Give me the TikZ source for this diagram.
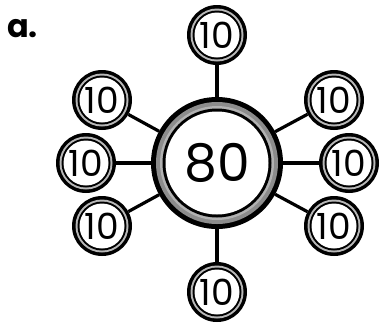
\documentclass[tikz,border=0pt]{standalone}
\usepackage{fontspec}
\setmainfont{Poppins}
\begin{document}
\begin{tikzpicture}[x=1pt,y=-1pt,
  sat/.style={circle, inner sep=0pt, outer sep=0pt, minimum size=60pt, fill=black,
    font=\fontsize{36}{36}\selectfont,
    path picture={
      \fill[black!28] (path picture bounding box.center) circle (26.5pt);
      \fill[black] (path picture bounding box.center) circle (24.5pt);
      \fill[white] (path picture bounding box.center) circle (22.5pt);
    }},
  hub/.style={circle, inner sep=0pt, outer sep=0pt, minimum size=132pt, fill=black,
    font=\fontsize{52}{52}\selectfont,
    path picture={
      \fill[black!45] (path picture bounding box.center) circle (61pt);
      \fill[black!30] (path picture bounding box.center) circle (57pt);
      \fill[black] (path picture bounding box.center) circle (54.5pt);
      \fill[white] (path picture bounding box.center) circle (51.5pt);
    }},
  conn/.style={line width=3.2pt, black},
  lbl/.style={font=\fontsize{32}{32}\selectfont\bfseries, inner sep=0pt, anchor=base west}
]
\useasboundingbox (0,0) rectangle (382,325);
\node[hub] (c) at (217,163) {80};
\node[sat] (n) at (217,35) {10};
\node[sat] (s) at (217,292) {10};
\node[sat] (w) at (86,163) {10};
\node[sat] (e) at (349,163) {10};
\node[sat] (nw) at (102,100) {10};
\node[sat] (ne) at (334,100) {10};
\node[sat] (sw) at (102,226) {10};
\node[sat] (se) at (334,226) {10};
\foreach \t in {n,s,w,e,nw,ne,sw,se} \draw[conn] (c) -- (\t);
\node[lbl] (a) at (7,37) {a.};
\end{tikzpicture}
\end{document}
